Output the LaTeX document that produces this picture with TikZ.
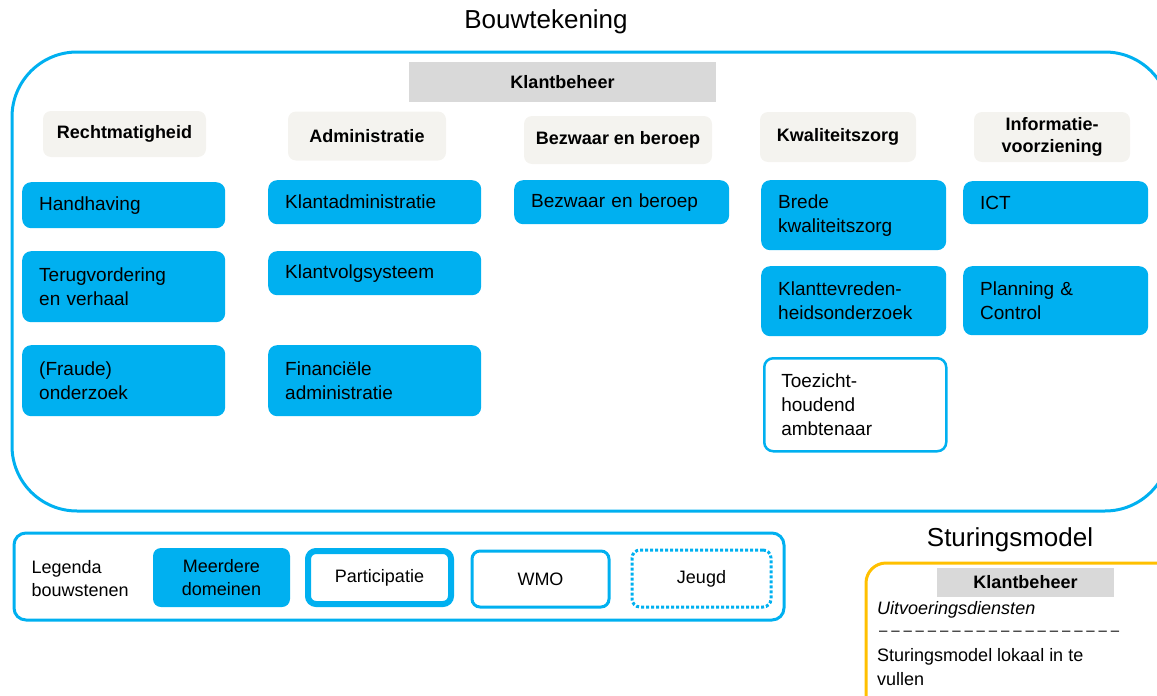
\documentclass[tikz,border=0pt]{standalone}
\usepackage{fontspec}
\setmainfont{Liberation Sans}
\usepackage{xcolor}
\usetikzlibrary{positioning}

\definecolor{blauw}{RGB}{0,176,240}
\definecolor{oranje}{RGB}{255,192,0}
\definecolor{grijs}{RGB}{217,217,217}
\definecolor{licht}{RGB}{244,243,239}

\tikzset{
    kader/.style={draw=blauw, line width=3pt, rounded corners=#1},
    balk/.style={fill=grijs, inner sep=0pt, font=\fontsize{18}{21}\selectfont\bfseries},
    kop/.style={fill=licht, rounded corners=8pt, inner sep=0pt, align=center, font=\fontsize{18}{20}\selectfont\bfseries},
    blok/.style={fill=blauw, rounded corners=9pt, inner xsep=17pt, inner ysep=0pt, align=left, anchor=north west, font=\fontsize{19}{24}\selectfont},
    leeg/.style={blok, fill=white, draw=blauw, line width=2.5pt},
    legenda/.style={rounded corners=8pt, inner sep=0pt, align=center, font=\fontsize{18}{23}\selectfont}
}

\begin{document}
\begin{tikzpicture}[x=1pt, y=-1pt]
    \useasboundingbox (0,0) rectangle (1157,696);
    % bouwtekening
    \node[font=\fontsize{26}{30}\selectfont] (titel) at (546,22) {Bouwtekening};
    \draw[kader=65pt] (12,52) rectangle (1170,511);
    \node[balk, minimum width=307pt, minimum height=40pt] (klant) at (562.5,82) {Klantbeheer};
    % koppen
    \node[kop, minimum width=163pt, minimum height=46pt] (recht) at (124.5,134) {Rechtmatigheid};
    \node[kop, minimum width=158pt, minimum height=49pt] (admin) at (367,136) {Administratie};
    \node[kop, minimum width=188pt, minimum height=48pt] (bezw) at (618,140) {Bezwaar en beroep};
    \node[kop, minimum width=156pt, minimum height=50pt] (kwal) at (838,137) {Kwaliteitszorg};
    \node[kop, minimum width=156pt, minimum height=50pt, font=\fontsize{18}{22}\selectfont\bfseries] (info) at (1052,137) {Informatie-\\voorziening};
    % bouwstenen
    \node[blok, minimum width=203pt, minimum height=46pt, text width=169pt] (handh) at (22,182) {Handhaving};
    \node[blok, minimum width=203pt, minimum height=71pt, text width=169pt] (terug) at (22,251) {Terugvordering\\en verhaal};
    \node[blok, minimum width=203pt, minimum height=71pt, text width=169pt] (fraude) at (22,345) {(Fraude)\\onderzoek};
    \node[blok, minimum width=213pt, minimum height=44pt, text width=179pt] (kadm) at (268,180) {Klantadministratie};
    \node[blok, minimum width=213pt, minimum height=44pt, text width=179pt] (kvolg) at (268,251) {Klantvolgsysteem};
    \node[blok, minimum width=213pt, minimum height=71pt, text width=179pt] (fin) at (268,345) {Financiële\\administratie};
    \node[blok, minimum width=215pt, minimum height=44pt, text width=181pt] (bezwb) at (514,180) {Bezwaar en beroep};
    \node[blok, minimum width=185pt, minimum height=70pt, text width=151pt] (brede) at (761,180) {Brede\\kwaliteitszorg};
    \node[blok, minimum width=185pt, minimum height=70pt, text width=151pt] (tevr) at (761,266) {Klanttevreden-\\heidsonderzoek};
    \node[leeg, minimum width=182pt, minimum height=93pt, text width=148pt] (toez) at (763,357) {Toezicht-\\houdend\\ambtenaar};
    \node[blok, minimum width=185pt, minimum height=43pt, text width=151pt] (ict) at (963,181) {ICT};
    \node[blok, minimum width=185pt, minimum height=69pt, text width=151pt] (plan) at (963,266) {Planning \&\\Control};
    % legenda
    \draw[kader=12pt] (14,533) rectangle (784,620);
    \node[font=\fontsize{18}{23}\selectfont, align=left, anchor=west] (leg) at (28,579) {Legenda\\bouwstenen};
    \node[legenda, fill=blauw, minimum width=137pt, minimum height=59pt] (meer) at (221.5,577.5) {Meerdere\\domeinen};
    \node[legenda, draw=blauw, line width=6pt, minimum width=143pt, minimum height=53pt] (part) at (379.5,577.5) {Participatie};
    \node[legenda, draw=blauw, line width=3pt, minimum width=137pt, minimum height=56pt] (wmo) at (540.5,579) {WMO};
    \node[legenda, draw=blauw, line width=3pt, dotted, minimum width=139pt, minimum height=57pt] (jeugd) at (701.5,578.5) {Jeugd};
    % sturingsmodel
    \node[font=\fontsize{26}{30}\selectfont] (sturing) at (1010,540) {Sturingsmodel};
    \draw[draw=oranje, line width=3pt, rounded corners=20pt] (866,563) rectangle (1185,720);
    \node[balk, minimum width=177pt, minimum height=29pt] (klant2) at (1025.5,582) {Klantbeheer};
    \node[font=\fontsize{18}{22}\selectfont\itshape, anchor=west, inner sep=0pt] (uitv) at (877,610) {Uitvoeringsdiensten};
    \node[font=\fontsize{15}{22}\selectfont, anchor=west, inner sep=0pt] (streep) at (877,633)
        {\hbox to 244pt{\xleaders\hbox to 12.2pt{\hss–\hss}\hfill}};
    \node[font=\fontsize{18}{24}\selectfont, anchor=north west, align=left, inner sep=0pt] (lokaal) at (877,648) {Sturingsmodel lokaal in te\\vullen};
\end{tikzpicture}
\end{document}
